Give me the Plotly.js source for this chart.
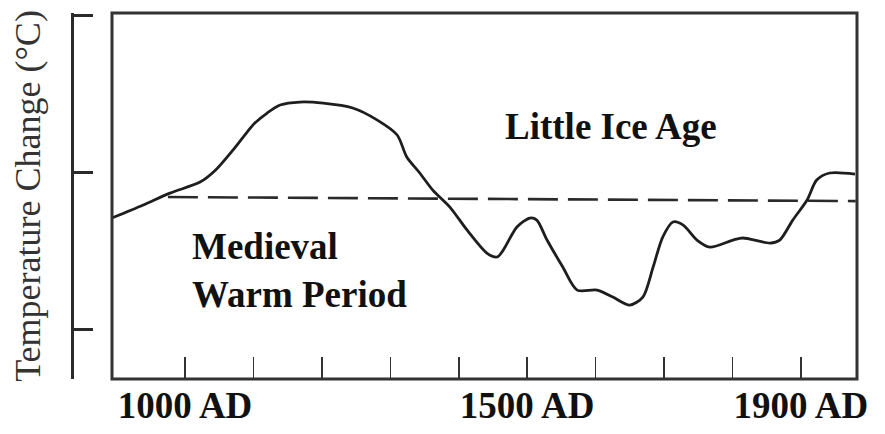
<!DOCTYPE html>
<html>
<head>
<meta charset="utf-8">
<script src="https://cdn.plot.ly/plotly-3.0.1.min.js"></script>
<style>html,body{margin:0;padding:0;background:#fff;}#chart{width:885px;height:434px;}</style>
</head>
<body>
<div id="chart"></div>
<script>
// Reconstructed temperature curve (year AD, relative temperature change)
const years = [893, 939, 978, 1022, 1044, 1070, 1085, 1102, 1120, 1139, 1168, 1202, 1245, 1281, 1310, 1324, 1343, 1362, 1387, 1412, 1441, 1456, 1465, 1485, 1504, 1514, 1529, 1552, 1573, 1602, 1625, 1650, 1669, 1684, 1698, 1713, 1728, 1748, 1767, 1801, 1815, 1855, 1869, 1888, 1909, 1923, 1942, 1979];
const temps = [-0.293, -0.210, -0.134, -0.064, 0.010, 0.140, 0.223, 0.312, 0.376, 0.427, 0.446, 0.439, 0.408, 0.331, 0.236, 0.096, -0.006, -0.115, -0.223, -0.369, -0.516, -0.541, -0.497, -0.350, -0.293, -0.306, -0.433, -0.605, -0.752, -0.752, -0.796, -0.847, -0.796, -0.605, -0.414, -0.318, -0.338, -0.433, -0.478, -0.433, -0.420, -0.452, -0.433, -0.306, -0.178, -0.051, -0.006, -0.013];

// Dashed reference level
const refYears = [975, 1980];
const refTemps = [-0.159, -0.185];

// Axis ticks
const xTickVals = [1000, 1100, 1200, 1300, 1400, 1500, 1600, 1700, 1800, 1900];
const xTickText = ['1000 AD', '', '', '', '', '1500 AD', '', '', '', '1900 AD'];
const yTickVals = [-1, 0, 1];

// Region labels
const labelText = ['Little Ice Age', 'Medieval<br>Warm Period'];
const labelX = [1465, 1007];
const labelY = [0.29, -0.625];

const serif = 'Liberation Serif, Times New Roman, serif';

const traces = [
  {
    x: refYears, y: refTemps, mode: 'lines', type: 'scatter',
    line: {color: '#2a2a2a', width: 2.6, dash: '30px,10px'},
    hoverinfo: 'skip', showlegend: false
  },
  {
    x: years, y: temps, mode: 'lines', type: 'scatter',
    line: {color: '#1e1e1e', width: 2.8, shape: 'spline', smoothing: 0.8},
    hoverinfo: 'skip', showlegend: false
  }
];

const layout = {
  width: 885, height: 434,
  margin: {l: 72, r: 28, t: 13, b: 55},
  paper_bgcolor: '#ffffff', plot_bgcolor: '#ffffff',
  showlegend: false,
  xaxis: {
    domain: [40 / 785, 1],
    range: [893.3, 1981.9],
    tickmode: 'array', tickvals: xTickVals, ticktext: xTickText,
    ticks: 'inside', ticklen: 22, tickwidth: 1.6, tickcolor: '#333',
    showgrid: false, zeroline: false, showline: false,
    tickfont: {family: serif, size: 37, color: '#111', weight: 'bold'},
    ticklabelstandoff: 1,
    automargin: false
  },
  yaxis: {
    range: [-1.318, 1.013],
    anchor: 'free', position: 0,
    tickmode: 'array', tickvals: yTickVals,
    ticks: 'inside', ticklen: 19, tickwidth: 3, tickcolor: '#2a2a2a',
    showticklabels: false,
    showgrid: false, zeroline: false,
    showline: true, linecolor: '#2a2a2a', linewidth: 3,
    title: {text: 'Temperature Change (°C)', standoff: 18,
            font: {family: serif, size: 36, color: '#333'}},
    automargin: false
  },
  shapes: [
    {type: 'rect', xref: 'x domain', yref: 'y domain', x0: 0, x1: 1, y0: 0, y1: 1,
     line: {color: '#333', width: 3}, fillcolor: 'rgba(0,0,0,0)', layer: 'above'}
  ],
  annotations: labelText.map((t, i) => ({
    text: t, x: labelX[i], y: labelY[i], xref: 'x', yref: 'y',
    xanchor: 'left', yanchor: 'middle', align: 'left', showarrow: false,
    font: {family: serif, size: 37, color: '#111', weight: 'bold'}
  }))
};

Plotly.newPlot('chart', traces, layout, {staticPlot: true, displayModeBar: false});
</script>
</body>
</html>
